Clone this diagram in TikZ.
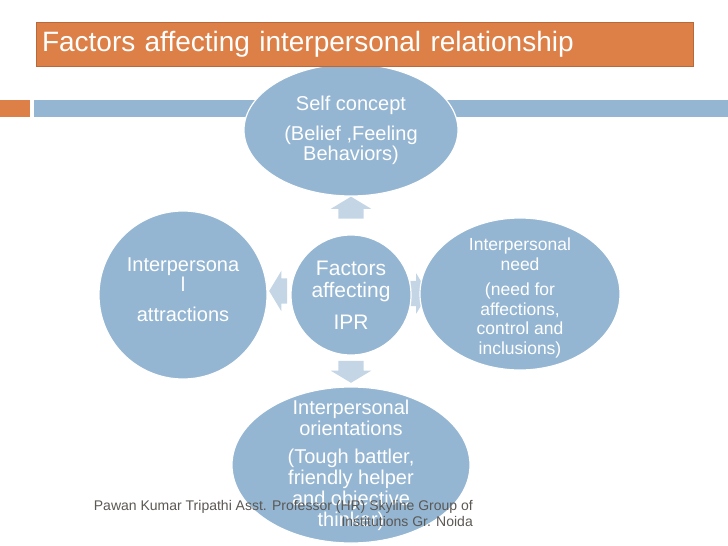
\documentclass[tikz,border=0pt]{standalone}
\usepackage{fontspec}
\setmainfont{Liberation Sans}
\usetikzlibrary{shapes.geometric,shapes.arrows,backgrounds,calc,positioning}
\usepackage{xcolor}
\definecolor{Slate}{RGB}{148,182,210}
\definecolor{PaleSlate}{RGB}{196,214,230}
\definecolor{Rust}{RGB}{221,128,71}
\definecolor{RustEdge}{RGB}{184,104,58}
\definecolor{Credit}{RGB}{92,88,84}
\tikzset{
  oval/.style={ellipse,draw=white,line width=1.2pt,fill=Slate,inner sep=0pt},
  ovaltext/.style={text=white,align=center,inner sep=0pt},
  farrow/.style={single arrow,fill=PaleSlate,draw=none,inner xsep=0pt,inner ysep=12.5pt,
                 single arrow head extend=7.5pt,
                 single arrow tip angle=118,minimum height=22pt},
  titlebox/.style={rectangle,draw=RustEdge,fill=Rust,text=white,
                   minimum width=657pt,minimum height=44pt,text width=645pt,
                   align=left,font=\fontsize{28}{30}\selectfont},
}

\begin{document}
\begin{tikzpicture}[x=1pt,y=-1pt]
    \useasboundingbox (0,0) rectangle (728,546);
    % header bars
    \fill[Rust] (0,100) rectangle (30,117);
    \fill[Slate] (34,100) rectangle (728,117);
    % ovals
    \node[oval,minimum width=214pt,minimum height=132pt] (self) at (351,130) {};
    \node[oval,minimum size=120pt,circle] (hub) at (351,295) {};
    \node[oval,minimum size=168pt,circle] (attr) at (183,295) {};
    \node[oval,minimum width=200pt,minimum height=152pt] (need) at (520,294) {};
    \node[oval,minimum width=238pt,minimum height=156pt] (orient) at (351,465) {};
    % texts
    \node[ovaltext,font=\fontsize{20}{20}\selectfont] (selfT) at (self) {Self concept\\[10pt](Belief ,Feeling\\Behaviors)};
    \node[ovaltext,font=\fontsize{21}{22}\selectfont] (hubT) at (hub) {Factors\\affecting\\[10pt]IPR};
    \node[ovaltext,font=\fontsize{20}{20}\selectfont] (attrT) at ($(attr)+(0,-5)$) {Interpersona\\l\\[10pt]attractions};
    \node[ovaltext,font=\fontsize{17.5}{19.5}\selectfont] (needT) at ($(need)+(0,4)$) {Interpersonal\\need\\[6pt](need for\\affections,\\control and\\inclusions)};
    \node[ovaltext,font=\fontsize{20}{21}\selectfont] (orientT) at (orient) {Interpersonal\\orientations\\[7pt](Tough battler,\\friendly helper\\and objective\\thinker)};
    % block arrows
    \begin{scope}[on background layer]
      \fill[white] (0,0) rectangle (728,546);
      \node[farrow,rotate=90] (upA) at ($(hub.north)!.5!(self.south)+(0,-4)$) {};
      \node[farrow,rotate=270] (downA) at ($(hub.south)!.5!(orient.north)+(0,-3)$) {};
      \node[farrow,rotate=180,minimum height=18pt] (leftA) at ($(hub.west)!.5!(attr.east)+(3,-4)$) {};
      \node[farrow,minimum height=18pt] (rightA) at ($(hub.east)!.5!(need.west)+(0,-1)$) {};
    \end{scope}
    \node[titlebox] (title) at (364.5,44) {Factors affecting interpersonal relationship};
    \node[text=Credit,align=right,anchor=east,inner sep=0pt,
          font=\fontsize{14}{16}\selectfont] (credit) at (473,513)
          {Pawan Kumar Tripathi Asst. Professor (HR) Skyline Group of\\Institutions Gr. Noida};
\end{tikzpicture}
\end{document}
